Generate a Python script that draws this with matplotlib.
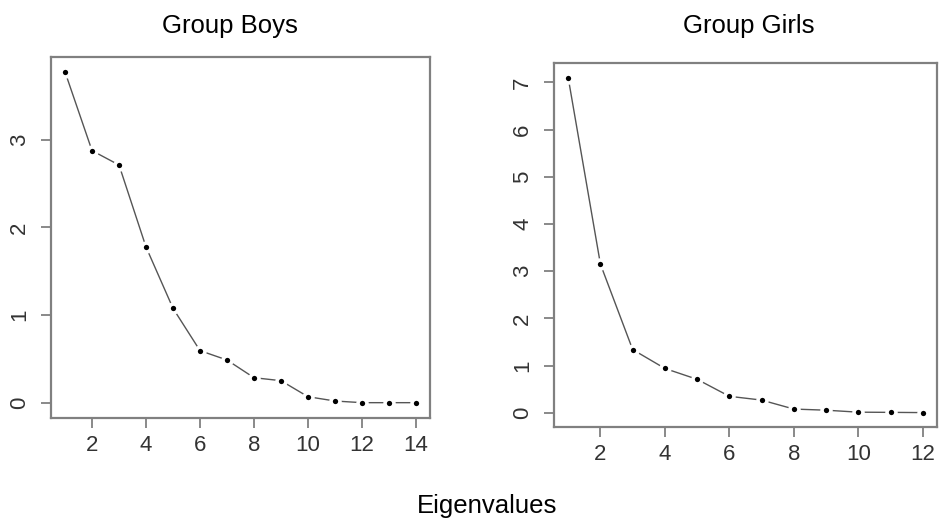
import matplotlib
matplotlib.use("Agg")
import matplotlib.pyplot as plt

plt.rcParams['font.family'] = ['Liberation Sans', 'DejaVu Sans']

boys_x = list(range(1, 15))
boys_y = [3.775, 2.877, 2.713, 1.777, 1.077, 0.594, 0.487, 0.285, 0.251, 0.068, 0.019, 0.0, 0.0, 0.0]
girls_x = list(range(1, 13))
girls_y = [7.10, 3.15, 1.34, 0.94, 0.71, 0.35, 0.27, 0.08, 0.056, 0.014, 0.01, 0.005]

boys_xticks = [2, 4, 6, 8, 10, 12, 14]
boys_yticks = [0, 1, 2, 3]
girls_xticks = [2, 4, 6, 8, 10, 12]
girls_yticks = [0, 1, 2, 3, 4, 5, 6, 7]

titles = ["Group Boys", "Group Girls"]
xlabel = "Eigenvalues"

W, H = 940, 525
fig = plt.figure(figsize=(9.4, 5.25), dpi=100)

def px_axes(x0, y0, x1, y1):
    return fig.add_axes([x0 / W, 1 - y1 / H, (x1 - x0) / W, (y1 - y0) / H])

ax1 = px_axes(51, 57, 430, 418)
ax2 = px_axes(554, 63, 937, 427)

def style(ax, xs, ys, xt, yt, xlim, ylim, ypad):
    ax.plot(xs, ys, color='#555555', lw=1.0, zorder=2)
    ax.plot(xs, ys, ls='none', marker='o', ms=4.5, mfc='black', mec='white', mew=4.5, zorder=3)
    ax.plot(xs, ys, ls='none', marker='o', ms=3.8, mfc='black', mec='black', mew=0, zorder=4)
    ax.set_xlim(*xlim)
    ax.set_ylim(*ylim)
    ax.set_xticks(xt)
    ax.set_yticks(yt)
    for s in ax.spines.values():
        s.set_color('#808080')
        s.set_linewidth(1.6)
    ax.tick_params(axis='both', direction='out', length=7, width=1.3, color='#808080',
                   labelcolor='#333333', labelsize=16)
    ax.tick_params(axis='x', pad=5)
    ax.tick_params(axis='y', pad=ypad)
    for lab in ax.get_yticklabels():
        lab.set_rotation(90)
        lab.set_va('center')

style(ax1, boys_x, boys_y, boys_xticks, boys_yticks, (0.48, 14.52), (-0.175, 3.946), 8)
style(ax2, girls_x, girls_y, girls_xticks, girls_yticks, (0.56, 12.44), (-0.30, 7.41), 8)

fig.text(229.5 / W, 1 - 33 / H, titles[0], ha='center', va='baseline', fontsize=18.5, color='black')
fig.text(748.5 / W, 1 - 33 / H, titles[1], ha='center', va='baseline', fontsize=18.5, color='black')
fig.text(487 / W, 1 - 513 / H, xlabel, ha='center', va='baseline', fontsize=18.5, color='black')

fig.savefig("out.png", dpi=100)
